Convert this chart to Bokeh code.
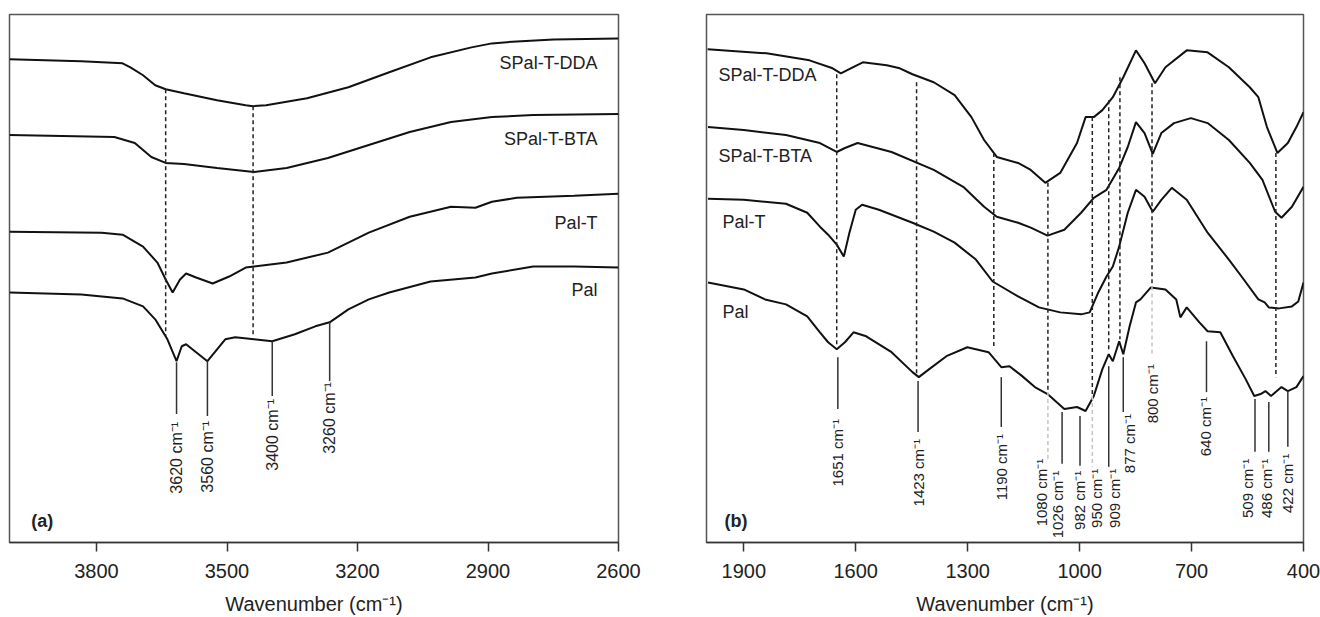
from math import pi
from bokeh.plotting import figure
from bokeh.layouts import row
from bokeh.models import Range1d, FixedTicker
from bokeh.core.properties import value
from bokeh.embed import file_html
from bokeh.resources import INLINE

FONT = "Liberation Sans"
INK = "#111111"

# ---------------- Panel (a): 4000-2600 cm-1 ----------------
A_DDA_WN = [4000, 3835, 3740, 3722, 3693, 3665, 3641, 3599, 3523, 3457, 3440, 3410, 3316, 3221, 3127, 3032, 2938, 2891, 2834, 2749, 2600]
A_DDA_T = [485, 483, 481, 477, 469, 459, 455, 451, 444, 439, 438, 439, 446, 457, 472, 487, 497, 501, 503, 505, 506]

A_BTA_WN = [4000, 3759, 3712, 3693, 3674, 3641, 3599, 3523, 3438, 3363, 3268, 3174, 3080, 2985, 2891, 2796, 2600]
A_BTA_T = [409, 407, 401, 394, 387, 381, 380, 376, 372, 376, 386, 399, 412, 422, 427, 429, 430]

A_PALT_WN = [4000, 3788, 3740, 3693, 3660, 3641, 3625, 3608, 3594, 3571, 3533, 3495, 3457, 3438, 3363, 3268, 3174, 3080, 2985, 2929, 2891, 2834, 2702, 2600]
A_PALT_T = [312, 311, 309, 297, 281, 264, 251, 264, 270, 266, 260, 267, 276, 277, 281, 291, 311, 327, 337, 336, 342, 346, 348, 350]

A_PAL_WN = [4000, 3835, 3740, 3693, 3665, 3637, 3616, 3604, 3594, 3571, 3545, 3528, 3504, 3481, 3438, 3396, 3344, 3297, 3264, 3221, 3174, 3127, 3032, 2929, 2891, 2796, 2702, 2600]
A_PAL_T = [251, 249, 245, 237, 224, 204, 182, 197, 199, 191, 182, 191, 204, 206, 204, 202, 209, 217, 221, 234, 244, 251, 262, 266, 270, 277, 277, 276]

A_NAMES = ["SPal-T-DDA", "SPal-T-BTA", "Pal-T", "Pal"]
A_DASH_WN = [3641, 3440]
A_PEAK_WN = [3616, 3545, 3396, 3264]
A_PEAK_LABELS = ["3620 cm⁻¹", "3560 cm⁻¹", "3400 cm⁻¹", "3260 cm⁻¹"]
A_TICKS = [3800, 3500, 3200, 2900, 2600]

# ---------------- Panel (b): 2000-400 cm-1 ----------------
B_DDA_WN = [1997, 1839, 1724, 1662, 1640, 1608, 1581, 1517, 1482, 1448, 1391, 1335, 1290, 1256, 1222, 1165, 1131, 1092, 1052, 1007, 984, 962, 939, 911, 883, 849, 826, 798, 770, 713, 657, 600, 544, 521, 498, 470, 442, 419, 400]
B_DDA_T = [493, 489, 482, 474, 469, 475, 480, 477, 474, 468, 460, 447, 425, 402, 385, 379, 372, 359, 369, 399, 425, 425, 432, 445, 465, 492, 479, 459, 475, 492, 490, 475, 455, 445, 415, 389, 399, 415, 430]

B_BTA_WN = [1996, 1900, 1787, 1696, 1651, 1629, 1595, 1504, 1391, 1312, 1256, 1222, 1165, 1131, 1086, 1041, 996, 962, 928, 894, 871, 849, 826, 804, 781, 747, 702, 657, 600, 544, 510, 476, 459, 431, 400]
B_BTA_T = [415, 412, 407, 399, 390, 394, 399, 390, 372, 355, 335, 325, 319, 314, 306, 312, 329, 344, 352, 374, 395, 420, 409, 388, 409, 419, 424, 419, 402, 379, 362, 330, 324, 335, 355]

B_PALT_WN = [1996, 1900, 1787, 1730, 1696, 1674, 1651, 1632, 1617, 1600, 1583, 1538, 1448, 1391, 1335, 1278, 1233, 1165, 1109, 1052, 996, 973, 950, 928, 911, 894, 871, 849, 826, 804, 781, 753, 713, 657, 600, 566, 521, 504, 493, 465, 431, 414, 400]
B_PALT_T = [343, 342, 338, 329, 315, 307, 297, 285, 309, 332, 337, 332, 319, 310, 299, 282, 260, 245, 234, 229, 227, 229, 249, 265, 275, 295, 329, 352, 345, 330, 342, 354, 342, 309, 282, 265, 242, 239, 234, 233, 235, 240, 259]

B_PAL_WN = [1996, 1900, 1843, 1787, 1730, 1696, 1674, 1651, 1629, 1606, 1572, 1504, 1448, 1431, 1403, 1357, 1301, 1244, 1210, 1188, 1154, 1120, 1086, 1041, 1007, 984, 962, 939, 922, 911, 894, 883, 866, 849, 837, 809, 770, 741, 730, 713, 679, 657, 623, 589, 555, 532, 515, 502, 487, 459, 442, 419, 400]
B_PAL_T = [259, 252, 242, 237, 225, 209, 199, 192, 199, 209, 205, 189, 169, 164, 172, 185, 194, 189, 174, 175, 165, 154, 147, 132, 134, 130, 145, 172, 187, 180, 200, 187, 215, 239, 242, 254, 252, 242, 224, 234, 219, 210, 209, 185, 162, 145, 147, 150, 145, 154, 150, 154, 165]

B_NAMES = ["SPal-T-DDA", "SPal-T-BTA", "Pal-T", "Pal"]
B_DASH_WN = [1651, 1437, 1230, 1085, 966, 922, 892, 806, 474]
B_GREY_WN = [1085, 966, 806]
B_PEAK_WN = [1648, 1433, 1210, 1047, 999, 922, 883, 660, 530, 493, 442]
B_LABELS = ["1651 cm⁻¹", "1423 cm⁻¹", "1190 cm⁻¹", "1080 cm⁻¹", "1026 cm⁻¹", "982 cm⁻¹",
            "950 cm⁻¹", "909 cm⁻¹", "877 cm⁻¹", "800 cm⁻¹", "640 cm⁻¹", "509 cm⁻¹", "486 cm⁻¹", "422 cm⁻¹"]
B_TICKS = [1900, 1600, 1300, 1000, 700, 400]

# ---------------- layout constants (positions, not data) ----------------
A_DASH_TOP, A_DASH_BOT = [455, 438], [207, 207]
A_PEAK_TOP, A_PEAK_BOT, A_LABEL_TOP = [181, 182, 202, 221], [129, 127, 147, 162], [121, 122, 144, 161]
A_NAME_X, A_NAME_Y = 2648, [481, 405, 321, 253]

B_DASH_TOP = [468, 460, 389, 359, 425, 442, 465, 459, 389]
B_DASH_BOT = [194, 167, 195, 149, 145, 189, 202, 255, 164]
B_GREY_TOP, B_GREY_BOT = [149, 145, 255], [82, 74, 185]
B_PEAK_TOP = [184, 160, 164, 129, 125, 175, 184, 200, 142, 139, 150]
B_PEAK_BOT = [132, 109, 114, 77, 75, 74, 129, 149, 89, 89, 94]
B_LABEL_X = [1648, 1433, 1210, 1103, 1060, 1001, 956, 907, 866, 804, 662, 549, 498, 442]
B_LABEL_TOP = [122, 102, 107, 82, 70, 70, 72, 72, 127, 177, 144, 82, 82, 87]
B_NAME_X, B_NAME_Y = [1968, 1968, 1957, 1957], [467, 386, 320, 229]


def make_fig(xr, yr, ticks, width, mbl, mbr):
    p = figure(width=width, height=617, x_range=Range1d(*xr), y_range=Range1d(*yr),
               output_backend="svg", toolbar_location=None,
               min_border_left=mbl, min_border_right=mbr, min_border_top=14, min_border_bottom=73)
    p.grid.visible = False
    p.yaxis.visible = False
    p.outline_line_color = "#555555"
    p.outline_line_width = 1.5
    p.background_fill_color = "white"
    p.border_fill_color = "white"
    ax = p.xaxis[0]
    ax.ticker = FixedTicker(ticks=ticks)
    ax.minor_tick_line_color = None
    ax.major_tick_in = 0
    ax.major_tick_out = 9
    ax.major_tick_line_width = 1.5
    ax.major_tick_line_color = "#333333"
    ax.axis_line_color = "#333333"
    ax.axis_line_width = 1.5
    ax.major_label_standoff = 12
    ax.major_label_text_font = FONT
    ax.major_label_text_font_size = "20px"
    ax.major_label_text_color = "#222222"
    ax.axis_label = "Wavenumber (cm⁻¹)"
    ax.axis_label_text_font = FONT
    ax.axis_label_text_font_size = "20px"
    ax.axis_label_text_font_style = "normal"
    ax.axis_label_text_color = "#222222"
    ax.axis_label_standoff = 12
    return p


def txt(p, x, y, t, size, align="left", angle=0.0, bold=False):
    p.text(x=x, y=y, text=t, angle=angle, text_align=align, text_baseline="middle",
           text_font=value(FONT), text_font_size=size, text_color="#222222",
           text_font_style="bold" if bold else "normal")


# ---- figure (a)
pa = make_fig((4000, 2600), (0, 530), A_TICKS, 658, 9, 40)
for wn, t in [(A_DDA_WN, A_DDA_T), (A_BTA_WN, A_BTA_T), (A_PALT_WN, A_PALT_T), (A_PAL_WN, A_PAL_T)]:
    pa.line(wn, t, line_color=INK, line_width=2)
pa.segment(x0=A_DASH_WN, y0=A_DASH_TOP, x1=A_DASH_WN, y1=A_DASH_BOT,
           line_color="#222222", line_width=1.5, line_dash="4 3")
pa.segment(x0=A_PEAK_WN, y0=A_PEAK_TOP, x1=A_PEAK_WN, y1=A_PEAK_BOT,
           line_color="#333333", line_width=1.5)
txt(pa, A_PEAK_WN, A_LABEL_TOP, A_PEAK_LABELS, "16px", align="right", angle=pi / 2)
txt(pa, [A_NAME_X] * 4, A_NAME_Y, A_NAMES, "18px", align="right")
txt(pa, [3950], [22], ["(a)"], "18px", bold=True)

# ---- figure (b)
pb = make_fig((2000, 400), (-2, 528), B_TICKS, 662, 48, 17)
for wn, t in [(B_DDA_WN, B_DDA_T), (B_BTA_WN, B_BTA_T), (B_PALT_WN, B_PALT_T), (B_PAL_WN, B_PAL_T)]:
    pb.line(wn, t, line_color=INK, line_width=2)
pb.segment(x0=B_DASH_WN, y0=B_DASH_TOP, x1=B_DASH_WN, y1=B_DASH_BOT,
           line_color="#222222", line_width=1.5, line_dash="4 3")
pb.segment(x0=B_GREY_WN, y0=B_GREY_TOP, x1=B_GREY_WN, y1=B_GREY_BOT,
           line_color="#c4c4c4", line_width=1.5, line_dash="4 3")
pb.segment(x0=B_PEAK_WN, y0=B_PEAK_TOP, x1=B_PEAK_WN, y1=B_PEAK_BOT,
           line_color="#333333", line_width=1.5)
txt(pb, B_LABEL_X, B_LABEL_TOP, B_LABELS, "15px", align="right", angle=pi / 2)
txt(pb, B_NAME_X, B_NAME_Y, B_NAMES, "18px")
txt(pb, [1952], [20], ["(b)"], "18px", bold=True)

layout = row(pa, pb)
open("out.html", "w").write(file_html(layout, INLINE))
